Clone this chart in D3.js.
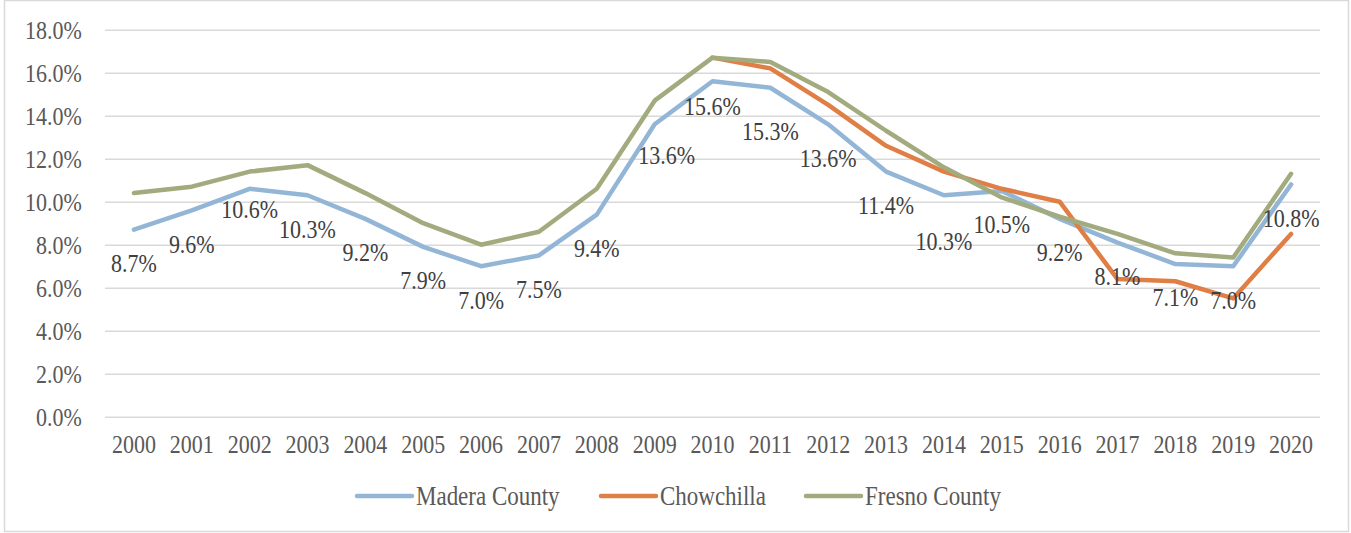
<!DOCTYPE html>
<html>
<head>
<meta charset="utf-8">
<script src="https://cdn.jsdelivr.net/npm/d3@7"></script>
<style>
  html, body { margin: 0; padding: 0; background: #ffffff; }
  svg { display: block; }
  text { font-family: "Liberation Serif", "Times New Roman", serif; }
</style>
</head>
<body>
<svg id="chart" width="1351" height="533"></svg>
<script>
// Unemployment rate by year
const years = ["2000","2001","2002","2003","2004","2005","2006","2007","2008","2009","2010",
               "2011","2012","2013","2014","2015","2016","2017","2018","2019","2020"];

const maderaCounty = [8.7, 9.6, 10.6, 10.3, 9.2, 7.9, 7.0, 7.5, 9.4, 13.6, 15.6,
                      15.3, 13.6, 11.4, 10.3, 10.5, 9.2, 8.1, 7.1, 7.0, 10.8];

const chowchilla = [null, null, null, null, null, null, null, null, null, null, 16.7,
                    16.2, 14.5, 12.6, 11.4, 10.6, 10.0, 6.4, 6.3, 5.5, 8.5];

const fresnoCounty = [10.4, 10.7, 11.4, 11.7, 10.4, 9.0, 8.0, 8.6, 10.6, 14.7, 16.7,
                      16.5, 15.1, 13.3, 11.6, 10.2, 9.3, 8.5, 7.6, 7.4, 11.3];

const seriesNames = ["Madera County", "Chowchilla", "Fresno County"];
const yTicks = [0, 2, 4, 6, 8, 10, 12, 14, 16, 18];

// Small hand adjustments for data labels that would otherwise collide [dx, dy]
const labelNudge = {
  "2002": [0, -13], "2009": [12, -2.5], "2010": [0, -8.5],
  "2011": [0, 10], "2014": [0, 12]
};

const colors = ["#93b6d7", "#e07f45", "#a2ab7d"];
const textStretch = 1.15;   // slightly tall lettering

const svg = d3.select("#chart");

// stretch a text element vertically about its own anchor line
function stretch(sel) {
  sel.each(function () {
    const t = d3.select(this);
    const ty = +t.attr("y") || 0;
    t.attr("transform", `translate(0,${ty}) scale(1,${textStretch}) translate(0,${-ty})`);
  });
}

// chart frame
svg.append("rect")
  .attr("x", 4.5).attr("y", 0.5)
  .attr("width", 1344).attr("height", 531)
  .attr("fill", "#ffffff")
  .attr("stroke", "#d9d9d9").attr("stroke-width", 1.5);

const plot = { left: 105, right: 1320, top: 29.7, bottom: 416.7 };

const x = d3.scaleBand().domain(years).range([plot.left, plot.right]).padding(0);
const cx = d => x(d) + x.bandwidth() / 2;
const y = d3.scaleLinear().domain([0, 18]).range([plot.bottom, plot.top]);

// y axis with gridlines
const yAxis = svg.append("g")
  .attr("transform", `translate(${plot.left},0)`)
  .call(d3.axisLeft(y)
    .tickValues(yTicks)
    .tickSize(-(plot.right - plot.left))
    .tickPadding(23.3)
    .tickFormat(d => d.toFixed(1) + "%"));
yAxis.select(".domain").remove();
yAxis.selectAll(".tick line").attr("stroke", "#d9d9d9").attr("stroke-width", 1.5);
yAxis.selectAll(".tick text")
  .attr("fill", "#595959")
  .attr("font-size", 22)
  .attr("dy", "0.33em")
  .call(stretch);

// x axis labels
const xAxis = svg.append("g")
  .attr("transform", `translate(0,${plot.bottom})`)
  .call(d3.axisBottom(x).tickSize(0).tickPadding(27.5));
xAxis.select(".domain").remove();
xAxis.selectAll(".tick text")
  .attr("fill", "#595959")
  .attr("font-size", 22)
  .attr("dy", "0.33em")
  .call(stretch);

// lines
const allSeries = [maderaCounty, chowchilla, fresnoCounty];
const line = d3.line()
  .defined(d => d.v !== null)
  .x(d => cx(d.year))
  .y(d => y(d.v));

allSeries.forEach((vals, i) => {
  const pts = years.map((yr, j) => ({ year: yr, v: vals[j] }));
  svg.append("path")
    .datum(pts)
    .attr("fill", "none")
    .attr("stroke", colors[i])
    .attr("stroke-width", 4.5)
    .attr("stroke-linejoin", "round")
    .attr("stroke-linecap", "round")
    .attr("d", line);
});

// data labels for Madera County, kept inside the plot area
const labels = svg.append("g");
years.forEach((yr, j) => {
  const v = maderaCounty[j];
  const n = labelNudge[yr] || [0, 0];
  const t = labels.append("text")
    .attr("font-size", 22)
    .attr("fill", "#404040")
    .attr("text-anchor", "middle")
    .attr("dy", "0.33em")
    .text(v.toFixed(1) + "%");
  const w = t.node().getComputedTextLength();
  let px = cx(yr) + n[0];
  px = Math.max(plot.left + w / 2, Math.min(plot.right - w / 2, px));
  t.attr("x", px).attr("y", y(v) + 34 + n[1]).call(stretch);
});

// legend
const legendItems = [
  { name: seriesNames[0], color: colors[0], x0: 357 },
  { name: seriesNames[1], color: colors[1], x0: 601 },
  { name: seriesNames[2], color: colors[2], x0: 806 }
];
const legendY = 496;
const leg = svg.append("g");
legendItems.forEach(it => {
  leg.append("line")
    .attr("x1", it.x0).attr("x2", it.x0 + 55)
    .attr("y1", legendY).attr("y2", legendY)
    .attr("stroke", it.color).attr("stroke-width", 4.5)
    .attr("stroke-linecap", "round");
  leg.append("text")
    .attr("x", it.x0 + 59).attr("y", legendY)
    .attr("dy", "0.33em")
    .attr("font-size", 23)
    .attr("fill", "#595959")
    .text(it.name)
    .call(stretch);
});
</script>
</body>
</html>
